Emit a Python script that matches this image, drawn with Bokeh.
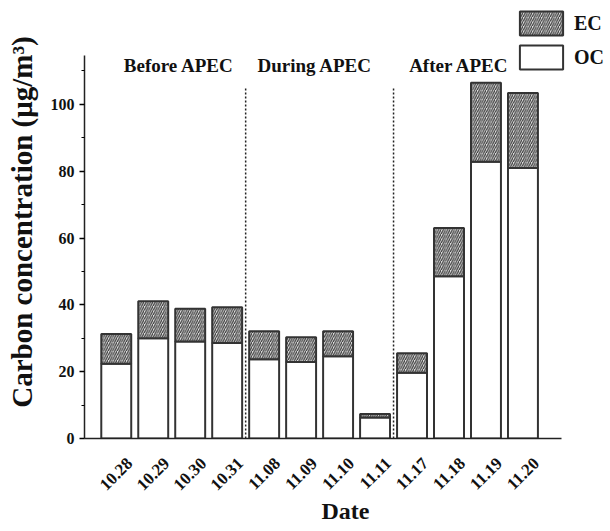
from math import pi
from bokeh.plotting import figure
from bokeh.models import Range1d, LinearAxis, FixedTicker, Legend, LegendItem, ColumnDataSource
from bokeh.core.properties import value
from bokeh.embed import file_html
from bokeh.resources import INLINE

# ---- data ----
dates = ["10.28", "10.29", "10.30", "10.31", "11.08", "11.09",
         "11.10", "11.11", "11.17", "11.18", "11.19", "11.20"]
oc = [22.4, 30.0, 29.0, 28.6, 23.7, 22.9, 24.6, 6.3, 19.7, 48.6, 82.8, 81.0]
ec = [8.9, 11.1, 9.8, 10.7, 8.4, 7.4, 7.5, 1.0, 5.8, 14.4, 23.7, 22.4]
periods = ["Before APEC", "During APEC", "After APEC"]
group_sizes = [4, 4, 4]
y_ticks = [0, 20, 40, 60, 80, 100]
y_minor = [10, 30, 50, 70, 90, 110]

FONT = "Liberation Serif"

idx = list(range(len(dates)))
total = [o + e for o, e in zip(oc, ec)]
src = ColumnDataSource(dict(x=idx, oc=oc, ec=ec, total=total, zero=[0] * len(idx)))

x_start, x_end = -0.859, 13.26
shift = 0.36

p = figure(width=606, height=527, output_backend="svg", toolbar_location=None,
           x_range=Range1d(x_start, x_end), y_range=Range1d(0, 129.6),
           x_axis_location=None, min_border_left=84, min_border_right=0,
           min_border_top=5, min_border_bottom=85)
p.outline_line_color = None
p.grid.visible = False
p.background_fill_color = "white"

bar_w = 0.81
r_oc = p.vbar(x="x", bottom="zero", top="oc", width=bar_w, source=src,
              fill_color="white", line_color="#333333", line_width=2)
r_ec = p.vbar(x="x", bottom="oc", top="total", width=bar_w, source=src,
              fill_color="#e0e0e0", line_color="#333333", line_width=2,
              hatch_pattern="/", hatch_color="#3a3a3a", hatch_scale=4.5, hatch_weight=1.2)

# period dividers
bounds_x = []
acc = 0
for g in group_sizes[:-1]:
    acc += g
    bounds_x.append(acc - 0.5)
p.segment(x0=bounds_x, y0=[0] * len(bounds_x), x1=bounds_x, y1=[104.8] * len(bounds_x),
          line_color="#222222", line_width=1.5, line_dash="2 2")

# period labels
label_x = [1.69, 5.37, 9.27]
p.text(x=label_x, y=[111.7] * 3, text=periods, text_align="center", text_baseline="middle",
       text_font=value(FONT), text_font_style="bold", text_font_size="19px", text_color="#111111")

# y axis
ya = p.yaxis[0]
ya.ticker = FixedTicker(ticks=y_ticks, minor_ticks=y_minor)
ya.bounds = (0, 114.7)
ya.axis_label = "Carbon concentration (\u03bcg/m\u00b3)"
ya.axis_label_text_font = FONT
ya.axis_label_text_font_style = "bold"
ya.axis_label_text_font_size = "29px"
ya.axis_label_text_color = "#111111"
ya.axis_label_standoff = 10
ya.major_label_text_font = FONT
ya.major_label_text_font_style = "bold"
ya.major_label_text_font_size = "16px"
ya.major_label_text_color = "#111111"
ya.major_tick_in = 0
ya.major_tick_out = 5
ya.minor_tick_in = 0
ya.minor_tick_out = 3
ya.axis_line_width = 1.5
ya.axis_line_color = "#222222"
ya.major_tick_line_width = 1.5
ya.minor_tick_line_width = 1.2

# x axis (labels placed on a range shifted so they sit like the reference)
p.extra_x_ranges = {"lab": Range1d(x_start - shift, x_end - shift)}
xa = LinearAxis(x_range_name="lab", ticker=FixedTicker(ticks=idx),
                major_label_overrides={i: d for i, d in enumerate(dates)},
                bounds=(x_start - shift, 12.04 - shift))
xa.major_tick_line_color = None
xa.minor_tick_line_color = None
xa.major_tick_out = 0
xa.major_label_orientation = pi / 4
xa.major_label_standoff = 22
xa.major_label_text_font = FONT
xa.major_label_text_font_style = "bold"
xa.major_label_text_font_size = "17px"
xa.major_label_text_color = "#111111"
xa.axis_label = "Date"
xa.axis_label_text_font = FONT
xa.axis_label_text_font_style = "bold"
xa.axis_label_text_font_size = "24px"
xa.axis_label_text_color = "#111111"
xa.axis_label_standoff = 0
xa.axis_line_width = 1.5
xa.axis_line_color = "#222222"
p.add_layout(xa, "below")

legend = Legend(items=[LegendItem(label="EC", renderers=[r_ec]),
                       LegendItem(label="OC", renderers=[r_oc])],
                location=(430, 366), glyph_width=54, glyph_height=30, spacing=4,
                padding=0, margin=0, label_standoff=6,
                label_text_font=FONT, label_text_font_style="bold",
                label_text_font_size="20px", label_text_color="#111111",
                border_line_color=None, background_fill_alpha=0)
p.add_layout(legend, "center")

open("out.html", "w").write(file_html(p, INLINE))
